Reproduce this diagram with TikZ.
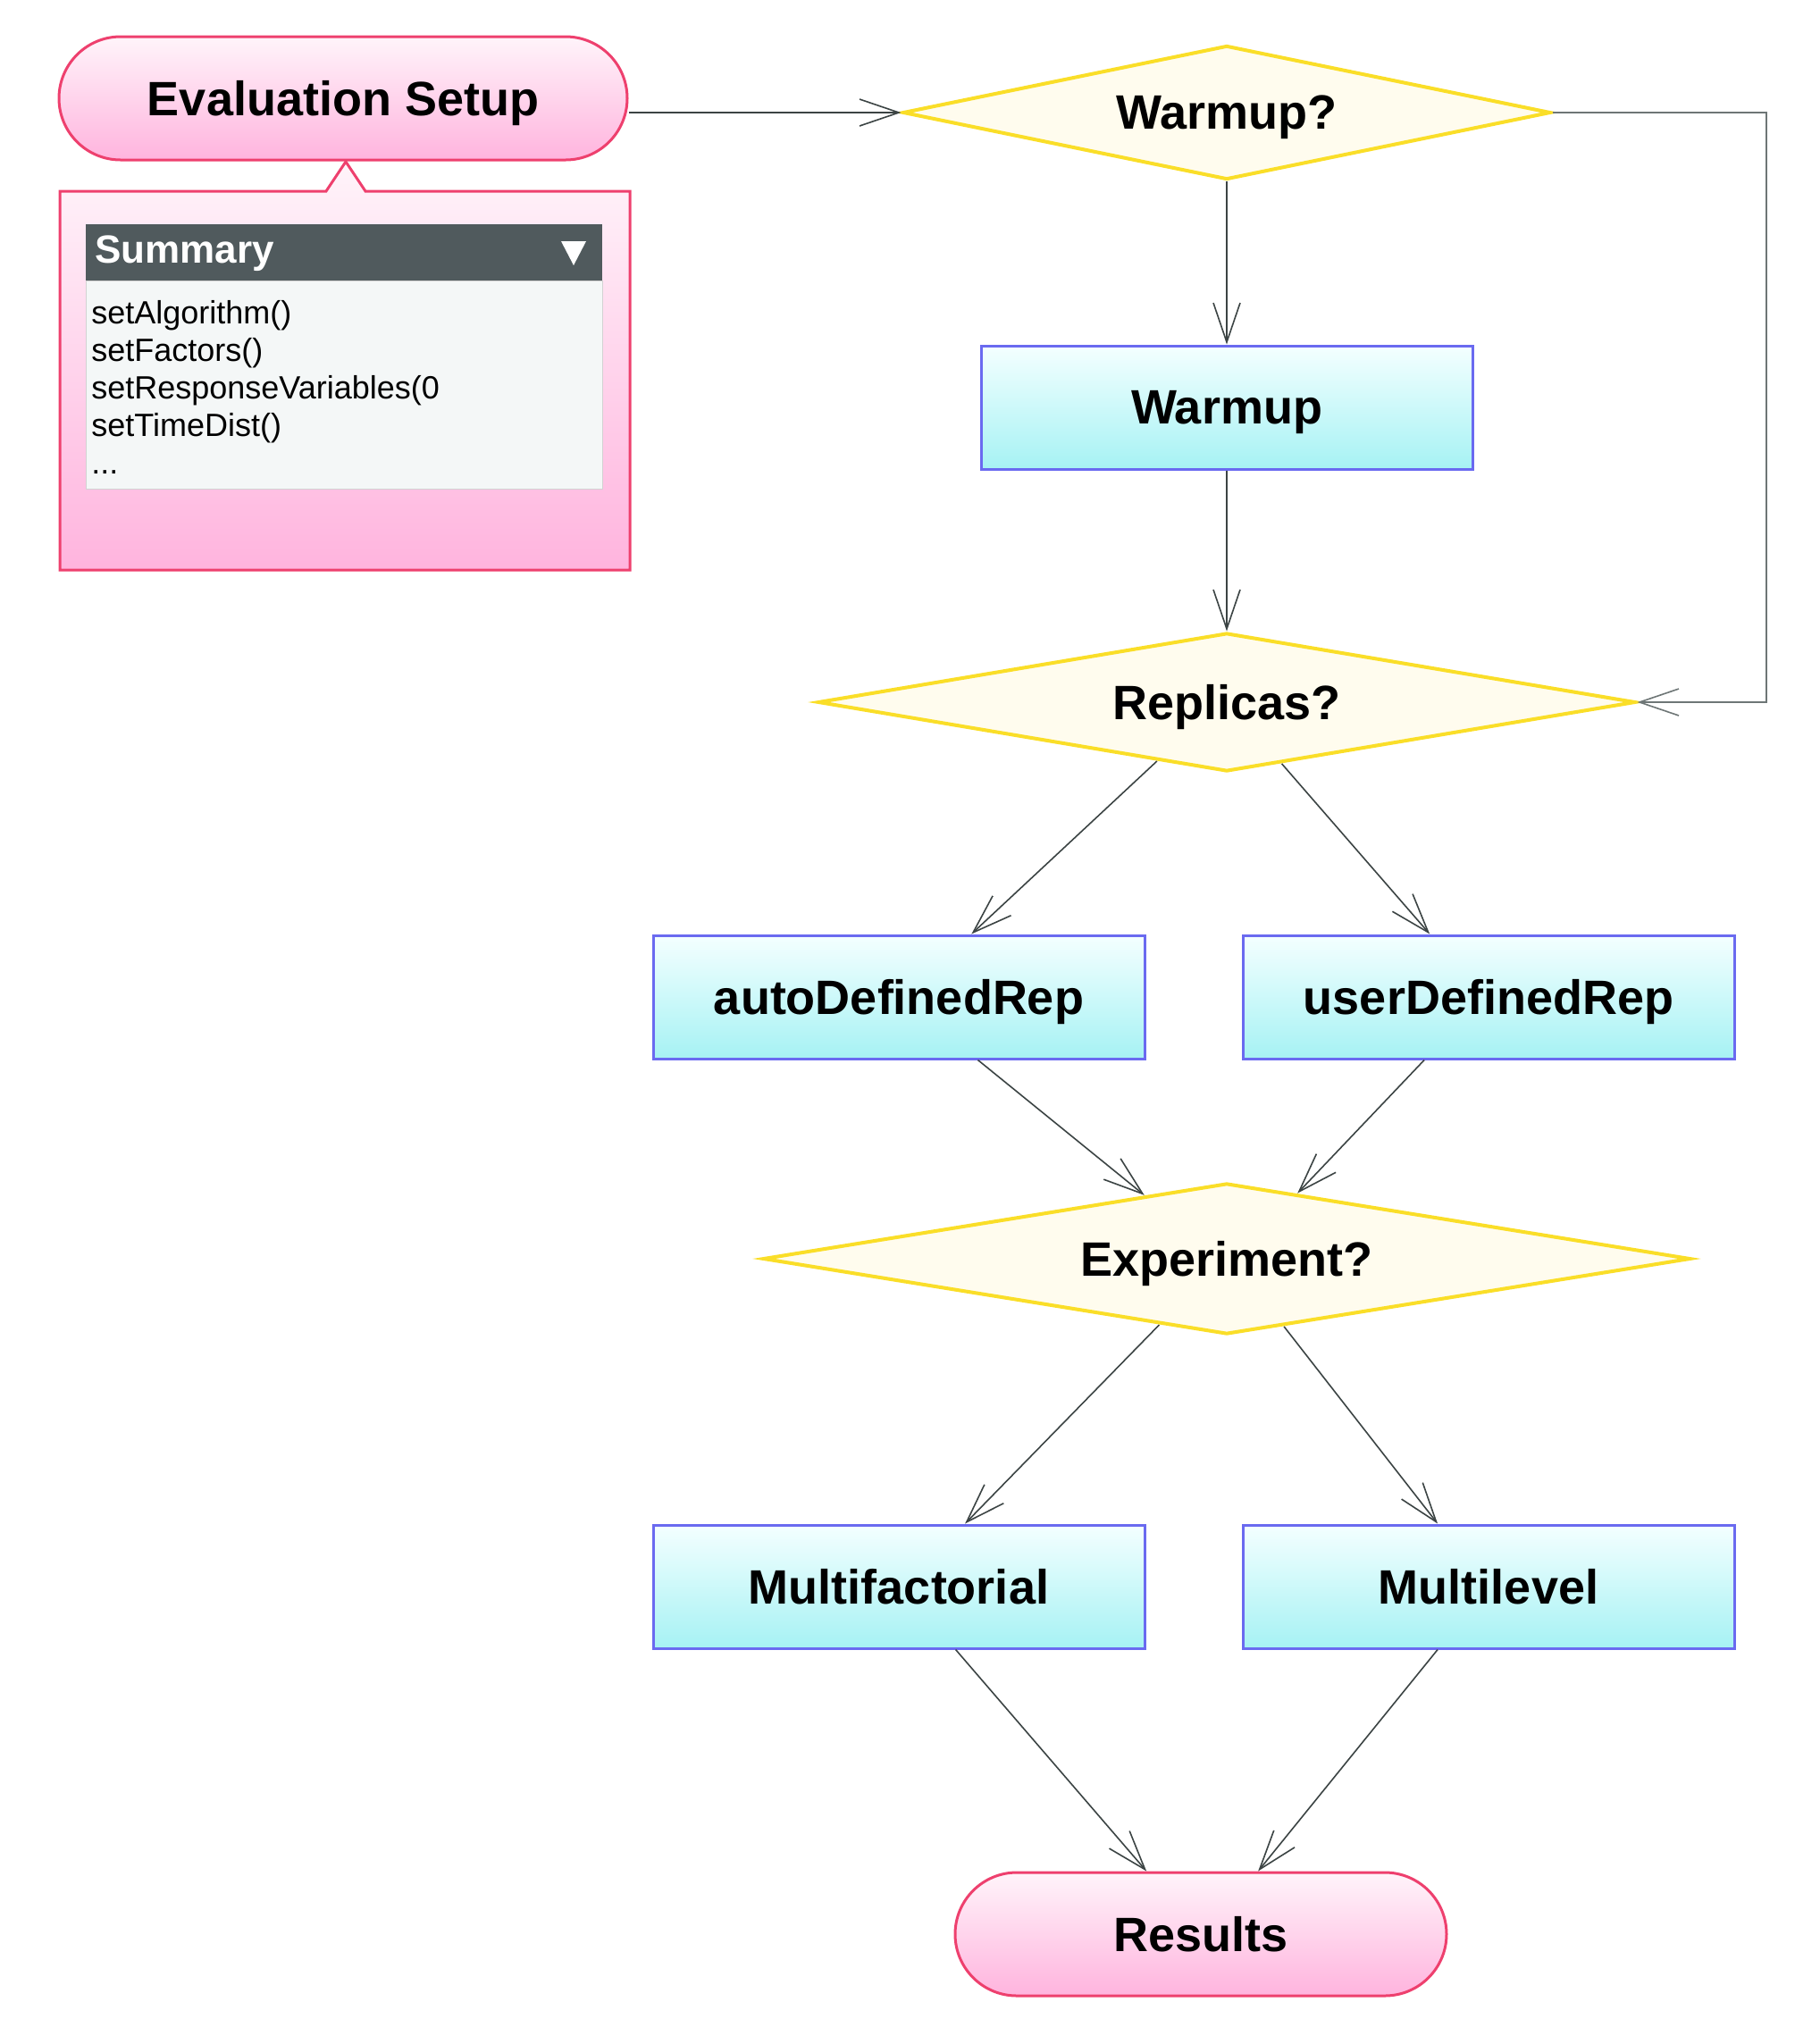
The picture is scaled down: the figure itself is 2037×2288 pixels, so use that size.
\documentclass[tikz,border=0pt]{standalone}
\usepackage{fontspec}
\setmainfont{Liberation Sans}
\usetikzlibrary{shapes.geometric,arrows.meta,calc}
\definecolor{pinkbd}{RGB}{238,64,110}
\definecolor{pinktop}{RGB}{255,244,250}
\definecolor{pinkbot}{RGB}{255,180,222}
\definecolor{cyantop}{RGB}{244,255,255}
\definecolor{cyanbot}{RGB}{166,242,244}
\definecolor{bluebd}{RGB}{106,106,240}
\definecolor{diafill}{RGB}{255,252,238}
\definecolor{diabd}{RGB}{250,222,40}
\definecolor{linec}{RGB}{60,68,68}
\definecolor{loopcol}{RGB}{110,118,118}
\definecolor{hdr}{RGB}{80,90,93}
\definecolor{lightbox}{RGB}{244,247,247}
\newcommand\lblfont{\bfseries\fontsize{27}{32}\selectfont}
\begin{document}
\begin{tikzpicture}[x=0.5pt,y=-0.5pt,
  term/.style={draw=pinkbd,line width=1.5pt,top color=pinktop,bottom color=pinkbot,
    minimum height=69pt,rounded corners=34.5pt,font=\lblfont,inner sep=0pt,text depth=0pt},
  proc/.style={draw=bluebd,line width=1.5pt,top color=cyantop,bottom color=cyanbot,
    minimum width=275pt,minimum height=69pt,font=\lblfont,inner sep=0pt,text depth=0pt},
  decision/.style={diamond,draw=diabd,line width=2pt,fill=diafill,inner sep=0pt,font=\lblfont,text depth=0pt},
  arr/.style={draw=linec,line width=0.8pt,-{Straight Barb[length=22pt,width=15pt]}},
]
\useasboundingbox (0,0) rectangle (2037,2288);

% Summary callout
\shade[top color=pinktop,bottom color=pinkbot,draw=pinkbd,line width=1.5pt]
  (67,214) -- (365,214) -- (387,181) -- (409,214) -- (705,214) -- (705,638) -- (67,638) -- cycle;
\fill[hdr] (96,251) rectangle (674,314);
\filldraw[fill=lightbox,draw=gray!35,line width=0.5pt] (96,314) rectangle (674,547);
\node[anchor=west,text=white,font=\bfseries\fontsize{22}{26}\selectfont,inner sep=0pt] (sumtitle) at (106,284) {Summary};
\fill[white] (628,270) -- (656,270) -- (642,297) -- cycle;
\node[anchor=north west,align=left,inner sep=0pt,font=\fontsize{18}{21}\selectfont] (items) at (102,336)
  {setAlgorithm()\\setFactors()\\setResponseVariables(0\\setTimeDist()\\...};

% Nodes
\node[term,minimum width=318pt] (es) at (384,110) {Evaluation Setup};
\node[decision,aspect=4.83,minimum width=362.5pt,minimum height=75pt] (wq) at (1373,126) {Warmup?};
\node[proc] (warm) at (1373,456) {Warmup};
\node[decision,aspect=5.9,minimum width=457.5pt,minimum height=77.5pt] (rq) at (1373,786) {Replicas?};
\node[proc] (auto) at (1006,1116) {autoDefinedRep};
\node[proc] (user) at (1666,1116) {userDefinedRep};
\node[decision,aspect=6.14,minimum width=519pt,minimum height=84.5pt] (eq) at (1373,1409) {Experiment?};
\node[proc] (mf) at (1006,1776) {Multifactorial};
\node[proc] (ml) at (1666,1776) {Multilevel};
\node[term,minimum width=275pt] (res) at (1344,2165) {Results};

% Connectors
\draw[arr] (es.east |- wq.west) -- (wq.west);
\coordinate (corner) at (1977,126);
\draw[arr,draw=loopcol] (wq.east) -- (corner) |- (rq.east);
\draw[arr] (wq.south) -- (warm.north);
\draw[arr] (warm.south) -- (rq.north);
\draw[arr] ($(rq.south)!0.17!(rq.west)$) -- ($(auto.north west)!0.647!(auto.north east)$);
\draw[arr] ($(rq.south)!0.134!(rq.east)$) -- ($(user.north west)!0.381!(user.north east)$);
\draw[arr] ($(auto.south west)!0.66!(auto.south east)$) -- ($(eq.north)!0.177!(eq.west)$);
\draw[arr] ($(user.south west)!0.37!(user.south east)$) -- ($(eq.north)!0.152!(eq.east)$);
\draw[arr] ($(eq.south)!0.145!(eq.west)$) -- ($(mf.north west)!0.634!(mf.north east)$);
\draw[arr] ($(eq.south)!0.123!(eq.east)$) -- ($(ml.north west)!0.397!(ml.north east)$);
\draw[arr] ($(mf.south west)!0.615!(mf.south east)$) -- ($(res.north west)!0.39!(res.north east)$);
\draw[arr] ($(ml.south west)!0.397!(ml.south east)$) -- ($(res.north west)!0.616!(res.north east)$);
\end{tikzpicture}
\end{document}
